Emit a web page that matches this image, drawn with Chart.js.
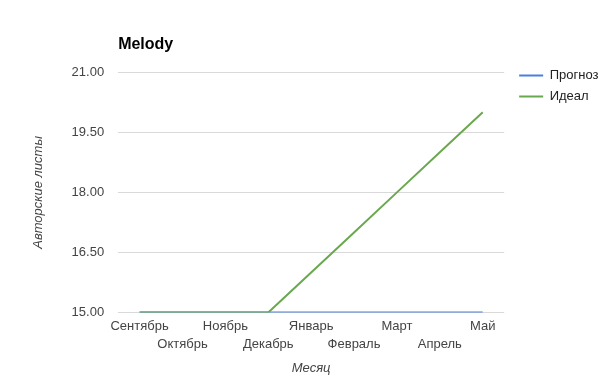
<!DOCTYPE html>
<html>
<head>
<meta charset="utf-8">
<script src="https://cdn.jsdelivr.net/npm/chart.js@4"></script>
<style>
  body { margin: 0; background: #fff; }
  #wrap { width: 605px; height: 378px; }
</style>
</head>
<body>
<div id="wrap"><canvas id="chart" width="605" height="378"></canvas></div>
<script>
const months = ["Сентябрь", "Октябрь", "Ноябрь", "Декабрь", "Январь", "Февраль", "Март", "Апрель", "Май"];
const forecast = [15, 15, 15, 15, 15, 15, 15, 15, 15];
const ideal = [15, 15, 15, 15, 16, 17, 18, 19, 20];
const yTicks = [15, 16.5, 18, 19.5, 21];

const FONT = "Arial, 'Liberation Sans', sans-serif";

// title drawn at the left edge of the plot, like the original
const titlePlugin = {
  id: "leftTitle",
  afterDraw(chart) {
    const ctx = chart.ctx;
    ctx.save();
    ctx.font = "bold 16px " + FONT;
    ctx.fillStyle = "#000";
    ctx.textBaseline = "middle";
    ctx.fillText("Melody", chart.chartArea.left, 45);
    ctx.restore();
  }
};

new Chart(document.getElementById("chart"), {
  type: "line",
  data: {
    labels: months,
    datasets: [
      {
        label: "Прогноз",
        data: forecast,
        borderColor: "#4a80dc",
        backgroundColor: "#4a80dc",
        borderWidth: 2,
        pointRadius: 0,
        order: 2
      },
      {
        label: "Идеал",
        data: ideal,
        borderColor: "#6aa84f",
        backgroundColor: "#6aa84f",
        borderWidth: 2,
        pointRadius: 0,
        order: 1
      }
    ]
  },
  options: {
    responsive: false,
    animation: false,
    layout: { padding: { top: 61, right: -3, left: 27, bottom: 2 } },
    plugins: {
      title: { display: false },
      // empty spacer so the plot starts a bit below the legend top
      subtitle: {
        display: true,
        text: "",
        fullSize: false,
        font: { size: 1 },
        padding: { top: 10, bottom: 0 }
      },
      tooltip: { enabled: false },
      legend: {
        position: "right",
        align: "start",
        labels: {
          usePointStyle: true,
          pointStyle: "line",
          pointStyleWidth: 24,
          padding: 8,
          color: "#222",
          font: { family: FONT, size: 13 },
          sort: (a, b) => a.datasetIndex - b.datasetIndex
        }
      }
    },
    scales: {
      x: {
        offset: true,
        grid: { display: false, drawTicks: false },
        border: { display: false },
        ticks: {
          autoSkip: false,
          maxRotation: 0,
          color: "#444",
          font: { family: FONT, size: 13, lineHeight: 1.38 },
          padding: 5,
          callback: (v, i) => (i % 2 ? ["", months[i]] : months[i])
        },
        title: {
          display: true,
          text: "Месяц",
          color: "#444",
          font: { family: FONT, size: 13, style: "italic" },
          padding: { top: 2, bottom: 0 }
        }
      },
      y: {
        min: 15,
        max: 21,
        afterBuildTicks: axis => { axis.ticks = yTicks.map(v => ({ value: v })); },
        grid: { color: "#d9d9d9", drawTicks: false },
        border: { display: false },
        ticks: {
          color: "#444",
          padding: 14,
          font: { family: FONT, size: 13 },
          callback: v => v.toFixed(2)
        },
        title: {
          display: true,
          text: "Авторские листы",
          color: "#444",
          font: { family: FONT, size: 13, style: "italic" },
          padding: { bottom: 11 }
        }
      },
      // empty right axis, only keeps a small gap before the legend
      gap: {
        type: "linear",
        position: "right",
        grid: { display: false, drawTicks: false },
        border: { display: false },
        ticks: { display: false },
        afterFit: axis => { axis.width = 7; }
      }
    }
  },
  plugins: [titlePlugin]
});
</script>
</body>
</html>
